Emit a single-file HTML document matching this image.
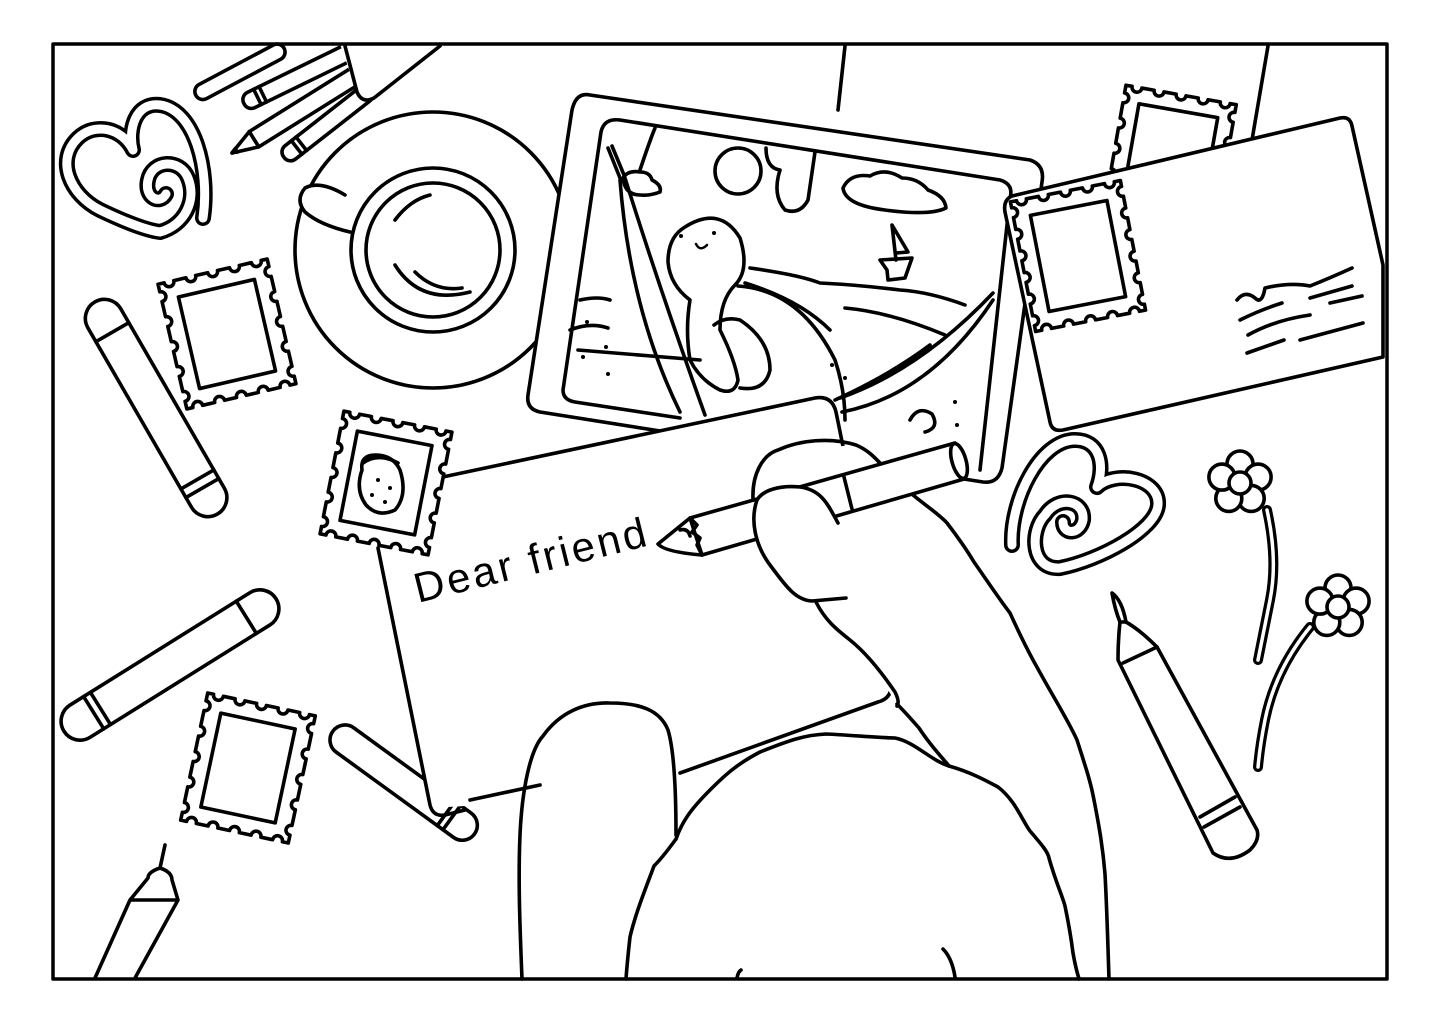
<!DOCTYPE html>
<html><head><meta charset="utf-8"><style>
html,body{margin:0;padding:0;background:#fff;}
svg{display:block}
</style></head><body>
<svg id="s" width="1445" height="1022" viewBox="0 0 1445 1022" xmlns="http://www.w3.org/2000/svg" fill="none" stroke="#000" stroke-width="3.6" stroke-linecap="round" stroke-linejoin="round">
<rect x="0" y="0" width="1445" height="1022" fill="#fff" stroke="none"/>
<path d="M845 46 L838 110"/>
<path d="M1268 46 L1252 140"/>
<g transform="rotate(-28 202 92)"><rect x="195" y="84" width="100" height="16" rx="8" fill="#fff"/></g>
<g transform="rotate(-26 250 100)"><rect x="243" y="92" width="120" height="17" rx="8" fill="#fff"/><path d="M258 92 V109 M264 92 V109"/></g>
<g transform="rotate(-32 232 153)"><path d="M232 153 L258 144 L258 162 Z" fill="#fff"/><rect x="258" y="144" width="120" height="18" fill="#fff"/><path d="M232 153 L237 151 L237 155"/></g>
<g transform="rotate(-38 290 152)"><rect x="282" y="144" width="110" height="17" rx="8" fill="#fff"/><path d="M298 144 V161 M304 144 V161"/></g>
<path d="M340 44 L357 92 Q362 104 374 98 L442 44 Z" fill="#fff" stroke="none"/>
<path d="M345 46 L357 92 Q362 104 374 98 L440 46"/>
<g>
<path d="M203 218 C210 170 195 110 160 105 C135 102 128 130 133 150 C122 128 95 122 78 138 C55 160 70 195 100 210 C125 222 145 230 160 232 C185 225 197 200 188 178 C180 158 152 160 148 180 C144 198 160 205 166 194" stroke-width="16"/>
<path d="M203 218 C210 170 195 110 160 105 C135 102 128 130 133 150 C122 128 95 122 78 138 C55 160 70 195 100 210 C125 222 145 230 160 232 C185 225 197 200 188 178 C180 158 152 160 148 180 C144 198 160 205 166 194" stroke-width="9" stroke="#fff"/>
</g>
<circle cx="433" cy="250" r="138"/>
<path d="M345 195 Q320 180 305 188 Q295 200 305 212 Q320 225 350 232" fill="#fff"/>
<circle cx="433" cy="250" r="82" fill="#fff"/>
<circle cx="433" cy="250" r="67"/>
<path d="M395 265 Q420 305 470 292 M415 272 Q435 292 462 288 M395 220 Q410 200 430 195"/>
<g transform="rotate(-30 103 318)"><rect x="85" y="300" width="38" height="245" rx="19" fill="#fff"/><path d="M85 335 H123 M85 505 H123 M85 515 H123"/></g>
<g transform="rotate(-32 170 665)"><rect x="45" y="646" width="250" height="38" rx="19" fill="#fff"/><path d="M80 646 V684 M88 646 V684 M260 646 V684"/></g>
<g transform="rotate(36 345 740)"><rect x="330" y="725" width="175" height="30" rx="15" fill="#fff"/><path d="M470 725 V755 M477 725 V755"/></g>
<path d="M165 845 L160 868 M160 868 Q148 872 148 878 L130 900 L95 978 M160 868 Q172 872 172 880 L178 900 L135 978 M130 900 L178 900"/>
<path d="M590 95 L1030 160 Q1045 165 1042 182 L1002 468 Q998 484 983 482 L540 412 Q526 409 528 395 L572 110 Q576 92 590 95 Z" fill="#fff"/>
<path d="M620 120 L1000 180 Q1014 184 1010 198 L980 470 M563 390 L601 132 Q604 118 620 120 M563 390 Q563 400 575 402 L680 418"/>
<circle cx="738" cy="171" r="23"/>
<path d="M766 148 Q766 168 780 170 Q772 195 785 210 Q800 215 808 200 L815 152"/>
<path d="M843 188 Q850 173 870 176 Q885 167 902 178 Q918 178 928 190 Q945 196 946 208 Q930 216 885 210 Q845 205 843 188 Z"/>
<path d="M623 178 Q628 170 640 172 Q650 172 652 180 Q662 185 660 192 Q650 196 640 195 Q625 195 623 178"/>
<path d="M640 170 Q650 140 655 128 M608 148 L620 178 M612 146 L624 175"/>
<path d="M620 180 Q630 310 680 412 M625 178 Q660 290 705 415"/>
<path d="M685 227 Q720 205 740 238 Q750 270 735 285 Q720 300 720 330 Q735 360 738 380 Q735 395 720 390 Q700 380 690 360 Q685 330 690 300 Q670 285 668 262 Q668 237 685 227 Z" fill="#fff"/>
<path d="M714 325 Q725 316 740 320 Q770 340 770 370 Q765 392 740 388"/>
<g fill="#000" stroke="none"><circle cx="681" cy="236" r="2"/><circle cx="714" cy="233" r="2"/></g>
<path d="M696 244 Q700 252 707 245" stroke-width="2.5"/>
<path d="M738 286 Q800 290 835 360 Q845 390 845 420 M745 283 Q800 300 830 330"/>
<path d="M750 268 Q800 275 820 283 Q860 285 900 290 Q930 292 965 305 M845 308 Q890 312 945 335"/>
<path d="M887 270 L880 260 L912 258 L905 278 L888 280 Z M896 260 L892 225 L908 252 L896 253"/>
<path d="M840 398 Q920 370 993 293 M842 412 Q930 395 993 300 M835 400 Q890 375 930 345"/>
<path d="M570 330 Q590 322 608 328 M580 300 Q598 296 610 300 M578 350 L700 360"/>
<path d="M910 420 Q918 405 932 414 Q940 428 925 432"/>
<g fill="#000" stroke="none"><circle cx="587" cy="322" r="2"/><circle cx="606" cy="347" r="2"/><circle cx="583" cy="357" r="2"/><circle cx="608" cy="374" r="2"/><circle cx="832" cy="365" r="2"/><circle cx="845" cy="378" r="2"/><circle cx="955" cy="402" r="2"/><circle cx="957" cy="425" r="2"/></g>
<g id="stampTop"></g>
<path d="M1012 196 L1340 118 Q1350 116 1352 126 L1383 265 L1383 357 L1063 430 Q1052 432 1050 422 L1005 212 Q1003 200 1012 196 Z" fill="#fff"/>
<g id="stampEnv"></g>
<path d="M1237 300 Q1245 290 1255 298 Q1262 305 1265 288 Q1290 282 1310 286 Q1330 278 1352 268 M1240 320 Q1260 310 1282 303 M1310 298 L1352 286 M1248 335 Q1275 320 1310 315 M1330 303 L1362 296 M1247 353 L1284 340 M1300 340 L1363 323"/>
<g id="stampLeft"></g>
<g id="stampBL"></g>
<path d="M438 478 L815 398 Q832 395 836 412 L891 682 Q893 698 878 702 L480 800 L465 806 L430 808 L378 548 Z" fill="#fff" stroke="none"/>
<path d="M438 478 L815 398 Q832 395 836 412 L891 682 Q893 698 878 702 L680 773 M378 548 L430 805 Q433 817 445 815 L465 810 M470 800 L540 785"/>
<g id="stampStraw"></g>
<path d="M362 470 Q360 455 375 455 Q393 455 400 470 Q408 495 395 510 Q378 518 366 505 Q355 490 362 470 Z M363 463 Q378 452 398 463"/>
<g fill="#000" stroke="none"><circle cx="378" cy="480" r="2"/><circle cx="390" cy="488" r="2"/><circle cx="372" cy="495" r="2"/><circle cx="385" cy="502" r="2"/></g>
<text x="418" y="603" transform="rotate(-14 418 603)" font-family="'Liberation Sans', sans-serif" font-size="42" letter-spacing="3" fill="#000" stroke="none">Dear friend</text>
<path d="M753 499 L777 451 L856 445 L913 495 L947 523 L974 562 L1010 613 L1038 669 L1077 740 L1093 795 L1105 874 L1109 979 L626 979 L630 937 L654 866 L674 839 L690 807 L737 764 L816 734 L895 738 L919 728 L897 704 L864 653 L836 629 L816 602 L777 574 L757 550 Z" fill="#fff" stroke="none"/>
<path d="M753 499 C752 475 762 455 778 450 C800 440 830 437 856 445 C868 450 875 458 880 463"/>
<path d="M690 518 L955 443 Q965 470 964 479 L702 555 Z" fill="#fff"/>
<path d="M690 518 L658 544 Q665 552 702 555 M680 530 Q688 528 690 536 M690 518 L697 525 L692 532 L700 538 L697 545 L702 555"/>
<ellipse cx="959" cy="461" rx="7" ry="18" transform="rotate(-16 959 461)" fill="#fff"/>
<path d="M844 477 L852 509"/>
<path d="M838 523 C828 505 822 490 800 487 C780 485 763 490 757 500 C750 520 755 545 770 565 C785 585 795 600 812 601 L846 598 L838 523 Z" fill="#fff" stroke="none"/>
<path d="M838 523 C828 505 822 490 800 487 C780 485 763 490 757 500 C750 520 755 545 770 565 C785 585 795 600 812 601 L846 598"/>
<path d="M816 602 C825 620 836 629 850 640 C865 652 880 670 895 692 Q900 702 897 706 M897 704 C905 712 912 720 919 728 C930 745 940 755 949 766"/>
<path d="M913 495 C925 505 940 515 947 523 C960 540 968 552 974 562 C990 585 1000 600 1010 613 C1020 635 1030 655 1038 669 C1055 700 1068 720 1077 740 C1085 765 1090 780 1093 795 C1100 830 1103 850 1105 874 C1107 910 1108 950 1109 979"/>
<path d="M522 979 C520 930 518 880 520 835 C522 790 530 750 543 736 C560 712 585 702 610 703 C640 703 660 710 668 730 C674 750 676 790 676 835"/>
<path d="M676 839 C682 822 690 810 710 790 C725 775 737 764 760 752 C790 740 805 735 826 734 C850 735 880 738 895 738 C915 742 930 760 949 766 C970 772 985 780 998 787 C1015 800 1022 820 1030 831 C1042 845 1048 852 1049 858 C1055 880 1062 895 1065 906 C1070 930 1072 945 1073 953 C1076 970 1078 975 1079 979"/>
<path d="M676 839 C668 850 660 860 654 866 C645 890 635 915 630 937 C628 955 627 965 626 979"/>
<path d="M943 949 Q952 958 955 977 M737 978 Q738 972 741 970"/>
<g>
<path d="M1012 545 C1010 500 1040 440 1075 440 C1100 440 1105 465 1097 487 C1115 470 1160 478 1158 505 C1156 530 1100 560 1060 568 C1030 570 1030 530 1045 515 C1058 495 1085 500 1083 520 C1080 535 1063 535 1063 522" stroke-width="16"/>
<path d="M1012 545 C1010 500 1040 440 1075 440 C1100 440 1105 465 1097 487 C1115 470 1160 478 1158 505 C1156 530 1100 560 1060 568 C1030 570 1030 530 1045 515 C1058 495 1085 500 1083 520 C1080 535 1063 535 1063 522" stroke-width="9" stroke="#fff"/>
</g>
<path d="M1267 510 Q1278 560 1270 600 Q1262 640 1258 660" stroke-width="10"/>
<path d="M1267 510 Q1278 560 1270 600 Q1262 640 1258 660" stroke-width="3.5" stroke="#fff"/>
<path d="M1310 627 Q1275 670 1265 720 Q1260 745 1258 767" stroke-width="10"/>
<path d="M1310 627 Q1275 670 1265 720 Q1260 745 1258 767" stroke-width="3.5" stroke="#fff"/>
<g id="fl1"></g><g id="fl2"></g>
<path d="M1112 593 Q1115 610 1120 622 Q1118 640 1118 660 L1213 853 Q1230 865 1250 850 Q1260 840 1257 830 L1157 647 Q1140 630 1126 622 Q1122 600 1112 593 Z" fill="#fff"/>
<path d="M1120 622 L1126 622 M1123 663 L1157 647 M1200 817 L1235 797 M1204 827 L1240 807"/>
<rect x="53" y="44" width="1334" height="935" stroke-width="3.5" fill="none"/>
</svg>
<script>
(function(){
var NS="http://www.w3.org/2000/svg";
function edge(x0,y0,x1,y1,step,r){
  var dx=x1-x0,dy=y1-y0,L=Math.sqrt(dx*dx+dy*dy),ux=dx/L,uy=dy/L;
  var n=Math.max(2,Math.round(L/step)),seg=L/n,d="";
  for(var i=0;i<n;i++){
    var a=i*seg+seg/2-r, b=i*seg+seg/2+r;
    d+=" L"+(x0+ux*a).toFixed(1)+" "+(y0+uy*a).toFixed(1);
    d+=" A"+r+" "+r+" 0 0 0 "+(x0+ux*b).toFixed(1)+" "+(y0+uy*b).toFixed(1);
  }
  d+=" L"+x1+" "+y1;
  return d;
}
function stamp(id,cx,cy,w,h,rot,inset){
  var g=document.getElementById(id);
  g.setAttribute("transform","rotate("+rot+" "+cx+" "+cy+")");
  var x0=cx-w/2,y0=cy-h/2,x1=cx+w/2,y1=cy+h/2;
  var d="M"+x0+" "+y0+edge(x0,y0,x1,y0,24,5)+edge(x1,y0,x1,y1,24,5)+edge(x1,y1,x0,y1,24,5)+edge(x0,y1,x0,y0,24,5)+"Z";
  var p=document.createElementNS(NS,"path");p.setAttribute("d",d);p.setAttribute("fill","#fff");g.appendChild(p);
  var r=document.createElementNS(NS,"rect");
  r.setAttribute("x",x0+inset);r.setAttribute("y",y0+inset);r.setAttribute("width",w-2*inset);r.setAttribute("height",h-2*inset);
  g.appendChild(r);
}
stamp("stampTop",1170,158,112,128,10,16);
stamp("stampEnv",1078,256,112,132,-11,17);
stamp("stampLeft",227,334,112,128,-13,17);
stamp("stampBL",248,768,110,130,12,17);
stamp("stampStraw",386,483,110,125,11,17);
function flower(id,cx,cy){
  var g=document.getElementById(id);
  for(var i=0;i<5;i++){
    var a=(i*72-90)*Math.PI/180;
    var c=document.createElementNS(NS,"circle");
    c.setAttribute("cx",(cx+Math.cos(a)*19).toFixed(1));c.setAttribute("cy",(cy+Math.sin(a)*19).toFixed(1));
    c.setAttribute("r","13");c.setAttribute("fill","#fff");g.appendChild(c);
  }
  var m=document.createElementNS(NS,"circle");m.setAttribute("cx",cx);m.setAttribute("cy",cy);m.setAttribute("r","11");m.setAttribute("fill","#fff");g.appendChild(m);
}
flower("fl1",1240,483);
flower("fl2",1338,607);
})();
</script>
</body></html>
